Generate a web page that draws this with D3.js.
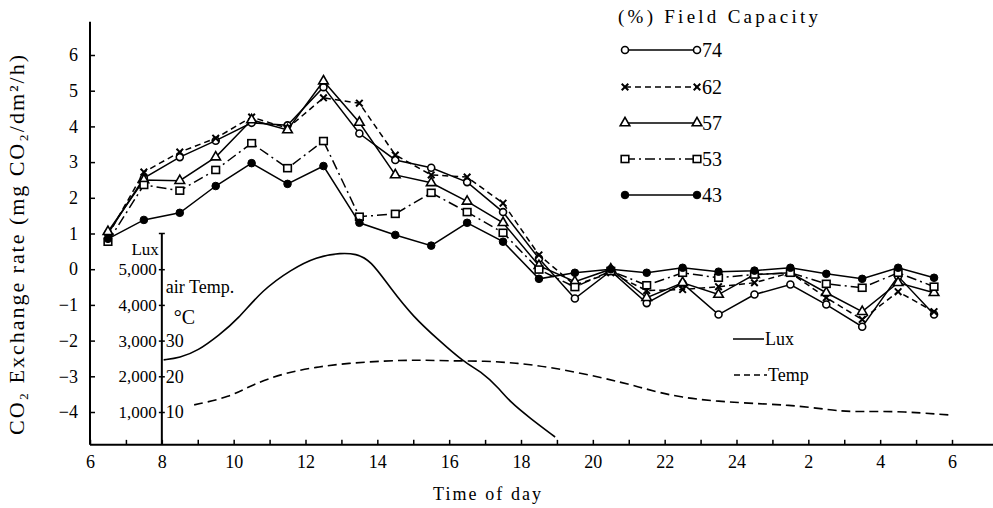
<!DOCTYPE html>
<html>
<head>
<meta charset="utf-8">
<script src="https://cdn.jsdelivr.net/npm/d3@7"></script>
<style>
  body { margin: 0; background: #fff; }
  text { font-family: "Liberation Serif", "DejaVu Serif", serif; fill: #000; }
</style>
</head>
<body>
<svg id="chart" width="993" height="508"></svg>
<script>
// sampling hours (times after 24 run on into the next morning)
const hours = [6.5, 7.5, 8.5, 9.5, 10.5, 11.5, 12.5, 13.5, 14.5, 15.5, 16.5, 17.5,
  18.5, 19.5, 20.5, 21.5, 22.5, 23.5, 24.5, 25.5, 26.5, 27.5, 28.5, 29.5];

const fc74 = [1.0, 2.55, 3.14, 3.6, 4.1, 4.03, 5.1, 3.8, 3.06, 2.84, 2.44, 1.6,
  0.3, -0.82, -0.05, -0.95, -0.4, -1.27, -0.71, -0.43, -0.99, -1.61, -0.2, -1.27];
const fc62 = [0.95, 2.72, 3.28, 3.67, 4.26, 3.95, 4.8, 4.65, 3.2, 2.64, 2.58, 1.85,
  0.4, -0.45, -0.1, -0.6, -0.57, -0.49, -0.38, -0.1, -0.8, -1.41, -0.63, -1.19];
const fc57 = [1.05, 2.5, 2.48, 3.14, 4.18, 3.9, 5.27, 4.11, 2.64, 2.42, 1.9, 1.3,
  0.1, -0.35, 0.0, -0.8, -0.38, -0.71, -0.15, -0.1, -0.66, -1.19, -0.38, -0.66];
const fc53 = [0.77, 2.36, 2.2, 2.78, 3.53, 2.83, 3.59, 1.47, 1.55, 2.14, 1.6, 1.02,
  -0.01, -0.5, -0.05, -0.45, -0.1, -0.24, -0.15, -0.1, -0.41, -0.52, -0.1, -0.49];
const fc43 = [0.85, 1.38, 1.58, 2.33, 2.97, 2.39, 2.89, 1.3, 0.96, 0.66, 1.3, 0.77,
  -0.27, -0.1, 0.0, -0.1, 0.04, -0.07, -0.04, 0.04, -0.13, -0.27, 0.04, -0.24];

const seriesNames = ["74", "62", "57", "53", "43"];
const seriesValues = [fc74, fc62, fc57, fc53, fc43];

// light intensity (lux) through the day
const luxHours = [8.05, 8.5, 9.0, 9.6, 10.1, 10.8, 11.6, 12.3, 13.0, 13.4, 13.8, 14.4,
  15.0, 15.7, 16.4, 16.95, 17.35, 17.7, 18.25, 18.95];
const luxValues = [2460, 2520, 2710, 3160, 3580, 4420, 4990, 5350, 5460, 5430, 5270, 4420,
  3670, 3020, 2400, 2090, 1700, 1280, 830, 300];

// air temperature (°C)
const tempHours = [8.9, 9.9, 10.5, 11.4, 12.3, 13.2, 14.2, 15.1, 16.0, 17.0, 17.9, 18.8,
  20.2, 21.3, 22.4, 24.1, 25.5, 26.6, 27.2, 28.4, 29.9];
const tempValues = [12.0, 14.2, 17.6, 20.9, 22.6, 23.7, 24.3, 24.6, 24.3, 24.3, 23.7, 22.6,
  19.8, 17.0, 13.9, 12.5, 12.0, 10.6, 10.0, 10.3, 9.2];

const xTicks = [6, 7, 8, 9, 10, 11, 12, 13, 14, 15, 16, 17, 18, 19, 20, 21, 22, 23, 24,
  25, 26, 27, 28, 29, 30];
const yTicks = [-4, -3, -2, -1, 0, 1, 2, 3, 4, 5, 6];
const luxTicks = [1000, 2000, 3000, 4000, 5000];
const tempTicks = [10, 20, 30];

const svg = d3.select("svg#chart");

const x = d3.scaleLinear().domain([6, 30]).range([90, 952]);
const y = d3.scaleLinear().domain([-4, 6]).range([412, 55]);
const luxScale = d3.scaleLinear().domain([1000, 5000]).range([y(-4), y(0)]);
const tempScale = d3.scaleLinear().domain([10, 30]).range([y(-4), y(-2)]);

const axisBottomY = y(-4.92);

// x axis
const xAxis = d3.axisBottom(x)
  .tickValues(xTicks)
  .tickSizeInner(-5)
  .tickSizeOuter(0)
  .tickPadding(10)
  .tickFormat(h => h % 2 === 0 ? String(h > 24 ? h - 24 : h) : "");
const gx = svg.append("g")
  .attr("transform", `translate(0,${axisBottomY})`)
  .call(xAxis);
gx.select(".domain").remove();
gx.selectAll("text").attr("font-size", 18).attr("font-family", "Liberation Serif");
gx.selectAll("line").attr("stroke-width", 1.5);
svg.append("line")
  .attr("x1", x(6)).attr("x2", x(31.15))
  .attr("y1", axisBottomY).attr("y2", axisBottomY)
  .attr("stroke", "#000").attr("stroke-width", 2);

// y axis
const yAxis = d3.axisLeft(y)
  .tickValues(yTicks)
  .tickSizeInner(-5)
  .tickSizeOuter(0)
  .tickPadding(12)
  .tickFormat(v => v < 0 ? "\u2212" + Math.abs(v) : String(v));
const gy = svg.append("g")
  .attr("transform", `translate(${x(6)},0)`)
  .call(yAxis);
gy.select(".domain").remove();
gy.selectAll("text").attr("font-size", 18).attr("font-family", "Liberation Serif");
gy.selectAll("line").attr("stroke-width", 1.5);
svg.append("line")
  .attr("x1", x(6)).attr("x2", x(6))
  .attr("y1", y(6.93)).attr("y2", axisBottomY)
  .attr("stroke", "#000").attr("stroke-width", 2);

// inner lux / temperature axis at 8 o'clock
const innerX = x(8);
const luxAxis = d3.axisLeft(luxScale)
  .tickValues(luxTicks)
  .tickSizeInner(3).tickSizeOuter(0).tickPadding(2)
  .tickFormat(d3.format(","));
const gl = svg.append("g").attr("transform", `translate(${innerX},0)`).call(luxAxis);
gl.select(".domain").remove();
gl.selectAll("text").attr("font-size", 17).attr("font-family", "Liberation Serif");
gl.selectAll("line").attr("stroke-width", 1.5);

const luxRight = d3.axisRight(luxScale)
  .tickValues(luxTicks).tickSizeInner(3).tickSizeOuter(0).tickFormat("");
const glr = svg.append("g").attr("transform", `translate(${innerX},0)`).call(luxRight);
glr.select(".domain").remove();
glr.selectAll("line").attr("stroke-width", 1.5);

const tempAxis = d3.axisRight(tempScale)
  .tickValues(tempTicks).tickSize(0).tickPadding(4);
const gt = svg.append("g").attr("transform", `translate(${innerX},0)`).call(tempAxis);
gt.select(".domain").remove();
gt.selectAll("text").attr("font-size", 18).attr("font-family", "Liberation Serif");

svg.append("line")
  .attr("x1", innerX).attr("x2", innerX)
  .attr("y1", luxScale(6000)).attr("y2", axisBottomY)
  .attr("stroke", "#000").attr("stroke-width", 2);
svg.append("line")
  .attr("x1", innerX - 3).attr("x2", innerX + 3)
  .attr("y1", luxScale(6000)).attr("y2", luxScale(6000))
  .attr("stroke", "#000").attr("stroke-width", 1.5);

svg.append("text").text("Lux")
  .attr("x", innerX - 3).attr("y", luxScale(5000) - 14)
  .attr("text-anchor", "end").attr("font-size", 17);
svg.append("text").text("air Temp.")
  .attr("x", innerX + 4).attr("y", luxScale(4500) + 6)
  .attr("font-size", 18);
svg.append("text").text("\u00b0C")
  .attr("x", innerX + 12).attr("y", luxScale(3700) + 8)
  .attr("font-size", 20);

// lux and temperature curves
const luxLine = d3.line()
  .x((d, i) => x(luxHours[i]))
  .y(d => luxScale(d))
  .curve(d3.curveBasis);
svg.append("path")
  .attr("d", luxLine(luxValues))
  .attr("fill", "none").attr("stroke", "#000").attr("stroke-width", 1.6);

const tempLine = d3.line()
  .x((d, i) => x(tempHours[i]))
  .y(d => tempScale(d))
  .curve(d3.curveBasis);
svg.append("path")
  .attr("d", tempLine(tempValues))
  .attr("fill", "none").attr("stroke", "#000").attr("stroke-width", 1.6)
  .attr("stroke-dasharray", "9,5");

// CO2 exchange series
const dashes = {"74": null, "62": "6,4", "57": null, "53": "10,4,2,4", "43": null};

function drawMarker(g, name, cx, cy) {
  if (name === "74") {
    g.append("circle").attr("cx", cx).attr("cy", cy).attr("r", 3.5)
      .attr("fill", "#fff").attr("stroke", "#000").attr("stroke-width", 1.6);
  } else if (name === "43") {
    g.append("circle").attr("cx", cx).attr("cy", cy).attr("r", 3.8)
      .attr("fill", "#000").attr("stroke", "#000").attr("stroke-width", 1);
  } else if (name === "53") {
    g.append("rect").attr("x", cx - 3.8).attr("y", cy - 3.5).attr("width", 7.6).attr("height", 7)
      .attr("fill", "#fff").attr("stroke", "#000").attr("stroke-width", 1.6);
  } else if (name === "57") {
    g.append("path").attr("d", d3.symbol(d3.symbolTriangle, 40)())
      .attr("transform", `translate(${cx},${cy})`)
      .attr("fill", "#fff").attr("stroke", "#000").attr("stroke-width", 1.6);
  } else {
    g.append("path").attr("d", d3.symbol(d3.symbolX, 30)())
      .attr("transform", `translate(${cx},${cy})`)
      .attr("fill", "none").attr("stroke", "#000").attr("stroke-width", 2);
  }
}

const co2Line = d3.line()
  .x((d, i) => x(hours[i]))
  .y(d => y(d));

seriesValues.forEach((vals, k) => {
  const name = seriesNames[k];
  svg.append("path")
    .attr("d", co2Line(vals))
    .attr("fill", "none").attr("stroke", "#000").attr("stroke-width", 1.5)
    .attr("stroke-dasharray", dashes[name]);
  const g = svg.append("g");
  vals.forEach((v, i) => drawMarker(g, name, x(hours[i]), y(v)));
});

// legend
svg.append("text").text("(%)  Field Capacity")
  .attr("x", 618).attr("y", 23).attr("font-size", 19)
  .attr("textLength", 200).attr("lengthAdjust", "spacing");

const legendRows = [50, 87, 123, 159, 195];
seriesNames.forEach((name, k) => {
  const ly = legendRows[k];
  const g = svg.append("g");
  g.append("line").attr("x1", 625).attr("x2", 697)
    .attr("y1", ly).attr("y2", ly)
    .attr("stroke", "#000").attr("stroke-width", 1.5)
    .attr("stroke-dasharray", dashes[name]);
  drawMarker(g, name, 625, ly);
  drawMarker(g, name, 697, ly);
  svg.append("text").text(name)
    .attr("x", 702).attr("y", ly + 7).attr("font-size", 20);
});

svg.append("line").attr("x1", 733).attr("x2", 764).attr("y1", 339).attr("y2", 339)
  .attr("stroke", "#000").attr("stroke-width", 1.5);
svg.append("text").text("Lux").attr("x", 765).attr("y", 345).attr("font-size", 18);
svg.append("line").attr("x1", 734).attr("x2", 767).attr("y1", 375).attr("y2", 375)
  .attr("stroke", "#000").attr("stroke-width", 1.5).attr("stroke-dasharray", "6,4");
svg.append("text").text("Temp").attr("x", 768).attr("y", 381).attr("font-size", 18);

// axis titles
svg.append("text")
  .attr("transform", "translate(24,245) rotate(-90)")
  .attr("text-anchor", "middle").attr("font-size", 22)
  .attr("textLength", 380).attr("lengthAdjust", "spacing")
  .text("CO\u2082 Exchange rate (mg CO\u2082/dm\u00b2/h)");

svg.append("text").text("Time of day")
  .attr("x", 487).attr("y", 500)
  .attr("text-anchor", "middle").attr("font-size", 18)
  .attr("textLength", 108).attr("lengthAdjust", "spacing");
</script>
</body>
</html>
